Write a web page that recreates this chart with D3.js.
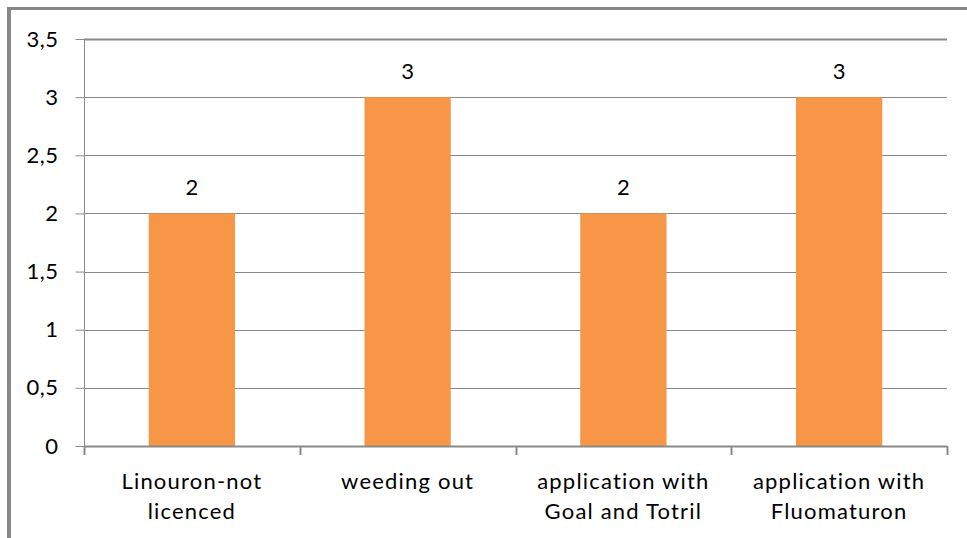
<!DOCTYPE html>
<html>
<head>
<meta charset="utf-8">
<script src="https://cdn.jsdelivr.net/npm/d3@7/dist/d3.min.js"></script>
<style>
  html, body { margin: 0; padding: 0; background: #fff; }
  svg { display: block; }
  text { font-family: Lato, "Open Sans", sans-serif; fill: #000; }
</style>
</head>
<body>
<svg id="chart" width="967" height="538"></svg>
<script>
// Treatments and their scores
const categories = [
  ["Linouron-not", "licenced"],
  ["weeding out"],
  ["application with", "Goal and Totril"],
  ["application with", "Fluomaturon"]
];
const values = [2, 3, 2, 3];
const yTicks = [0, 0.5, 1, 1.5, 2, 2.5, 3, 3.5];
const yTickLabels = ["0", "0,5", "1", "1,5", "2", "2,5", "3", "3,5"];

const W = 967, H = 538;
const plot = { left: 84, right: 947, top: 39, bottom: 446 };
const gridColor = "#8a8a8a";
const barColor = "#F79646";

const svg = d3.select("#chart");

// Frame lines along top and left edges
svg.append("rect").attr("x", 7).attr("y", 7).attr("width", W - 7).attr("height", 3).attr("fill", "#888");
svg.append("rect").attr("x", 7).attr("y", 7).attr("width", 4).attr("height", H - 7).attr("fill", "#888");

const x = d3.scaleBand()
  .domain(d3.range(categories.length))
  .range([plot.left, plot.right])
  .padding(0);

const y = d3.scaleLinear()
  .domain([0, 3.5])
  .range([plot.bottom, plot.top]);

// Horizontal gridlines
svg.append("g")
  .selectAll("line")
  .data(yTicks.filter(d => d > 0))
  .join("line")
  .attr("x1", plot.left)
  .attr("x2", plot.right)
  .attr("y1", d => Math.round(y(d)) + 0.5)
  .attr("y2", d => Math.round(y(d)) + 0.5)
  .attr("stroke", gridColor)
  .attr("stroke-width", d => d === 3.5 ? 2 : 1);

// Y axis
const yAxis = d3.axisLeft(y)
  .tickValues(yTicks)
  .tickFormat((d, i) => yTickLabels[i])
  .tickSize(9)
  .tickPadding(17);

const gy = svg.append("g")
  .attr("transform", `translate(${plot.left + 0.5},0)`)
  .call(yAxis);
gy.select(".domain").attr("stroke", gridColor).attr("d", `M0,${plot.top}V${plot.bottom}`);
gy.selectAll(".tick line").attr("stroke", gridColor);
gy.selectAll(".tick text")
  .style("font-family", "Lato, sans-serif")
  .style("font-size", "22px")
  .style("letter-spacing", "0.5px")
  .attr("fill", "#000");

// Bars
const barW = x.bandwidth() * 0.4;
svg.append("g")
  .selectAll("rect")
  .data(values)
  .join("rect")
  .attr("x", (d, i) => x(i) + (x.bandwidth() - barW) / 2)
  .attr("y", d => y(d))
  .attr("width", barW)
  .attr("height", d => y(0) - y(d))
  .attr("fill", barColor);

// Value labels
svg.append("g")
  .selectAll("text")
  .data(values)
  .join("text")
  .attr("x", (d, i) => x(i) + x.bandwidth() / 2)
  .attr("y", d => y(d) - 18)
  .attr("text-anchor", "middle")
  .style("font-size", "22px")
  .text(d => d);

// X axis line with tick marks at category boundaries
const gx = svg.append("g");
gx.append("line")
  .attr("x1", plot.left).attr("x2", plot.right)
  .attr("y1", plot.bottom + 0.5).attr("y2", plot.bottom + 0.5)
  .attr("stroke", gridColor).attr("stroke-width", 2);
const bounds = d3.range(categories.length + 1).map(i => i < categories.length ? x(i) : plot.right);
gx.selectAll("line.tk")
  .data(bounds)
  .join("line")
  .attr("class", "tk")
  .attr("x1", d => Math.round(d) + 0.5)
  .attr("x2", d => Math.round(d) + 0.5)
  .attr("y1", plot.bottom)
  .attr("y2", plot.bottom + 9)
  .attr("stroke", gridColor)
  .attr("stroke-width", 2);

// Category labels
const cat = svg.append("g")
  .selectAll("text")
  .data(categories)
  .join("text")
  .attr("text-anchor", "middle")
  .attr("transform", (d, i) => `translate(${x(i) + x.bandwidth() / 2},489)`)
  .style("font-size", "22px")
  .style("letter-spacing", "1.2px");
cat.selectAll("tspan")
  .data(d => d)
  .join("tspan")
  .attr("x", 0)
  .attr("y", (d, j) => j * 30)
  .text(d => d);
</script>
</body>
</html>
